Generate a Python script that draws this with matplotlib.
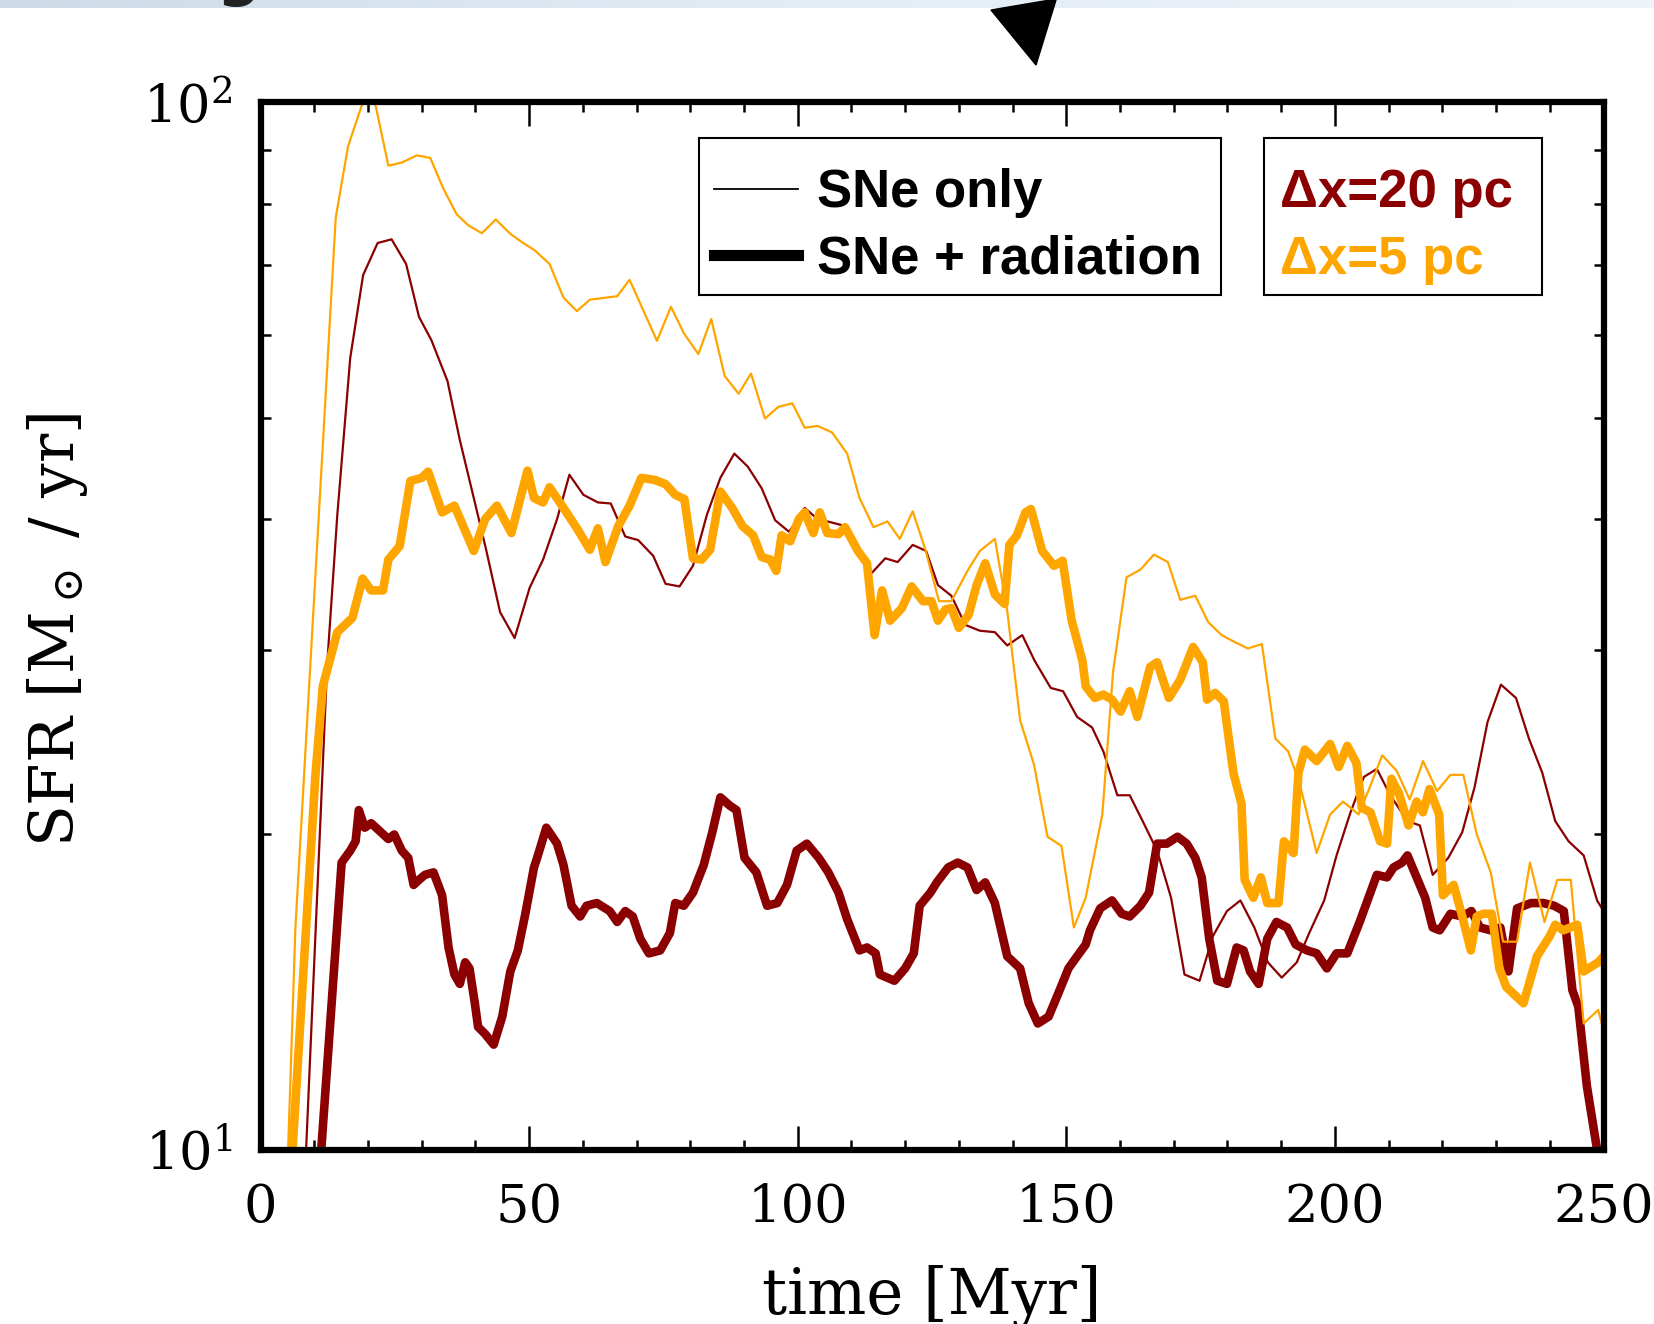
# SFR vs time for the SNe-only and SNe+radiation runs at two resolutions

import matplotlib
matplotlib.use("Agg")
import numpy as np
import matplotlib.pyplot as plt
from matplotlib.lines import Line2D
from matplotlib.patches import Polygon, Rectangle
from matplotlib.colors import LinearSegmentedColormap
from matplotlib.ticker import MultipleLocator, NullFormatter

plt.rcParams['font.family'] = 'DejaVu Serif'
plt.rcParams['mathtext.fontset'] = 'dejavuserif'

# (time [Myr], SFR [Msun/yr])
sne_20pc = [(8.3, 9.5), (12.4, 29.0), (14.3, 40.4), (16.7, 57.0), (19.1, 68.4), (21.8, 73.4),
            (24.4, 74.0), (27.1, 70.1), (29.5, 62.4), (31.8, 59.3), (34.8, 54.2), (37.1, 47.6),
            (39.7, 41.9), (42.0, 37.4), (44.6, 32.6), (47.3, 30.8), (50.1, 34.4), (52.6, 36.6),
            (55.2, 40.0), (57.5, 44.1), (60.1, 42.2), (62.8, 41.5), (65.2, 41.4), (67.9, 38.5),
            (70.3, 38.2), (73.1, 36.9), (75.4, 34.7), (78.0, 34.5), (80.5, 36.1), (83.1, 40.4),
            (85.6, 43.8), (88.2, 46.2), (90.7, 44.9), (93.3, 42.8), (95.8, 39.9), (98.4, 38.9),
            (101.3, 41.0), (103.7, 40.0), (106.4, 39.7), (108.8, 39.4), (111.2, 37.4), (113.7, 35.5),
            (116.3, 36.7), (118.6, 36.4), (121.4, 37.8), (123.9, 37.3), (126.1, 34.6), (128.6, 33.8),
            (131.2, 31.7), (133.9, 31.3), (136.7, 31.2), (139.0, 30.3), (141.8, 31.0), (144.1, 29.3),
            (147.1, 27.6), (149.4, 27.4), (152.0, 25.9), (154.8, 25.3), (156.9, 24.0), (159.5, 21.8),
            (161.8, 21.8), (164.4, 20.5), (166.9, 19.3), (169.5, 17.4), (172.0, 14.7), (174.8, 14.5),
            (177.3, 16.0), (179.9, 16.9), (182.4, 17.3), (185.0, 16.3), (187.5, 15.1), (190.1, 14.6),
            (192.9, 15.1), (195.2, 16.1), (198.0, 17.3), (200.3, 19.1), (202.9, 21.0), (205.4, 22.7),
            (207.8, 23.1), (210.3, 21.8), (213.5, 20.6), (215.8, 20.4), (218.2, 18.3), (221.1, 19.0),
            (223.7, 20.1), (226.0, 22.2), (228.4, 25.6), (230.9, 27.8), (233.7, 27.0), (236.1, 24.7),
            (238.6, 22.9), (241.0, 20.6), (243.5, 19.7), (246.3, 19.1), (248.8, 17.3), (250.0, 16.9)]

sne_5pc = [(5.0, 9.5), (6.5, 16.3), (14.0, 77.6), (16.3, 90.8), (18.9, 99.5), (20.2, 103.0),
           (21.3, 100.0), (23.8, 87.0), (26.3, 87.6), (29.1, 89.0), (31.6, 88.5), (34.0, 82.8),
           (36.5, 78.2), (38.7, 76.3), (41.2, 75.0), (43.8, 77.3), (46.5, 74.9), (48.9, 73.4),
           (51.1, 72.2), (53.8, 70.1), (56.4, 65.1), (58.9, 63.2), (61.3, 64.8), (66.4, 65.3),
           (68.7, 67.7), (73.8, 59.2), (76.4, 63.8), (78.8, 60.2), (81.5, 57.5), (83.9, 62.1),
           (86.4, 54.8), (89.0, 52.7), (91.3, 55.1), (93.9, 49.9), (96.4, 51.2), (99.0, 51.6),
           (101.3, 48.9), (103.7, 49.1), (106.4, 48.4), (109.2, 46.2), (111.5, 41.9), (114.1, 39.3),
           (116.7, 39.8), (119.0, 38.3), (121.4, 40.7), (123.7, 37.5), (126.3, 33.4), (128.6, 33.4),
           (131.6, 35.7), (133.9, 37.3), (136.7, 38.3), (139.0, 32.7), (141.4, 25.7), (144.0, 23.3),
           (146.5, 19.9), (149.1, 19.5), (151.4, 16.3), (153.6, 17.4), (156.7, 20.9), (158.7, 28.6),
           (161.2, 35.2), (163.8, 35.8), (166.3, 37.0), (168.9, 36.4), (171.2, 33.5), (174.0, 33.8),
           (176.4, 31.9), (178.9, 31.0), (181.5, 30.5), (183.8, 30.1), (186.4, 30.4), (188.9, 24.7),
           (191.3, 24.0), (193.4, 22.4), (196.6, 19.2), (199.1, 20.9), (201.5, 21.5), (204.4, 20.9),
           (206.2, 22.0), (208.8, 23.8), (211.5, 23.0), (213.9, 21.6), (216.4, 23.5), (219.0, 22.0),
           (221.5, 22.8), (223.9, 22.8), (226.4, 20.0), (229.0, 18.4), (231.3, 15.8), (233.9, 15.8),
           (236.3, 18.8), (239.0, 16.5), (241.4, 18.1), (243.9, 18.1), (246.3, 13.2), (249.0, 13.6),
           (250.0, 13.0)]

rad_20pc = [(11.0, 9.5), (15.1, 18.8), (16.7, 19.3), (17.7, 19.7), (18.3, 21.1), (19.4, 20.3),
            (20.6, 20.5), (22.4, 20.1), (23.8, 19.8), (24.9, 20.0), (26.3, 19.3), (27.5, 19.0),
            (28.5, 17.9), (29.5, 18.1), (30.6, 18.3), (32.2, 18.4), (33.8, 17.5), (35.0, 15.6),
            (36.1, 14.7), (37.1, 14.4), (38.1, 15.1), (38.9, 14.9), (39.9, 13.8), (40.5, 13.1),
            (41.8, 12.9), (43.4, 12.6), (45.0, 13.4), (46.5, 14.8), (47.9, 15.5), (49.3, 16.8),
            (50.9, 18.6), (51.5, 19.0), (53.2, 20.3), (55.2, 19.6), (56.4, 18.7), (57.9, 17.1),
            (59.5, 16.7), (60.7, 17.1), (62.6, 17.2), (65.0, 16.9), (66.4, 16.5), (67.9, 16.9),
            (69.3, 16.7), (70.7, 15.9), (72.3, 15.4), (74.4, 15.5), (76.2, 16.1), (77.2, 17.2),
            (78.8, 17.1), (80.5, 17.6), (82.5, 18.7), (84.1, 20.1), (85.6, 21.7), (87.4, 21.3),
            (88.6, 21.1), (90.1, 19.0), (92.3, 18.4), (94.3, 17.1), (96.2, 17.2), (98.0, 17.9),
            (99.8, 19.3), (101.7, 19.6), (103.9, 19.0), (105.7, 18.4), (107.6, 17.6), (109.2, 16.6),
            (111.5, 15.5), (112.9, 15.6), (114.5, 15.4), (115.3, 14.7), (118.0, 14.5), (120.0, 14.9),
            (121.6, 15.4), (122.7, 17.1), (124.7, 17.6), (125.9, 18.0), (128.0, 18.6), (129.8, 18.8),
            (131.6, 18.6), (133.3, 17.7), (134.9, 18.0), (136.7, 17.2), (139.0, 15.3), (141.4, 14.9),
            (143.0, 13.8), (144.7, 13.2), (146.7, 13.4), (148.5, 14.1), (150.4, 14.9), (152.0, 15.3),
            (153.6, 15.7), (154.4, 16.2), (156.3, 17.0), (158.5, 17.3), (160.3, 16.8), (161.8, 16.7),
            (163.8, 17.1), (165.4, 17.6), (166.9, 19.6), (168.7, 19.6), (170.7, 19.9), (172.4, 19.6),
            (174.0, 19.0), (175.2, 18.2), (176.6, 15.9), (178.1, 14.5), (179.9, 14.4), (181.7, 15.6),
            (183.0, 15.5), (184.2, 14.8), (185.8, 14.4), (187.4, 15.9), (189.1, 16.5), (191.1, 16.3),
            (192.7, 15.7), (194.8, 15.5), (196.6, 15.4), (198.5, 14.9), (200.3, 15.4), (202.3, 15.4),
            (204.6, 16.5), (207.8, 18.3), (209.7, 18.2), (210.9, 18.6), (212.5, 18.8), (213.5, 19.1),
            (215.2, 18.2), (216.8, 17.4), (218.2, 16.3), (219.5, 16.2), (221.5, 16.8), (223.7, 16.7),
            (225.4, 16.9), (227.0, 16.3), (229.0, 16.2), (230.8, 16.3), (232.3, 14.8), (233.9, 17.0),
            (236.5, 17.2), (238.8, 17.2), (240.8, 17.1), (242.6, 16.9), (244.2, 14.2), (245.3, 13.7),
            (246.9, 11.5), (248.8, 10.0), (249.6, 9.5)]

rad_5pc = [(5.7, 9.5), (10.2, 22.7), (11.6, 27.7), (14.3, 31.2), (17.1, 32.2), (19.0, 35.1),
           (20.6, 34.2), (22.8, 34.2), (23.8, 36.6), (25.9, 37.7), (27.9, 43.5), (30.0, 43.8),
           (31.2, 44.4), (33.8, 40.6), (36.1, 41.2), (39.7, 37.3), (41.8, 40.0), (44.0, 41.2),
           (46.7, 38.8), (49.7, 44.5), (50.9, 41.9), (52.6, 41.5), (53.8, 42.9), (56.4, 41.0),
           (58.9, 39.2), (61.3, 37.4), (62.8, 39.2), (64.2, 36.4), (66.6, 39.4), (68.7, 41.2),
           (70.9, 43.8), (73.4, 43.6), (75.4, 43.2), (77.2, 42.2), (78.9, 41.8), (80.5, 36.7),
           (82.1, 36.6), (83.7, 37.4), (85.6, 42.5), (87.8, 41.0), (89.7, 39.4), (91.7, 38.6),
           (93.3, 36.8), (94.9, 36.6), (96.0, 35.7), (97.0, 38.6), (98.6, 38.1), (100.2, 40.0),
           (101.3, 40.6), (102.9, 38.8), (104.1, 40.6), (105.5, 38.8), (107.6, 38.7), (108.8, 39.3),
           (111.2, 37.3), (112.9, 36.3), (114.3, 31.0), (115.7, 34.2), (117.2, 32.0), (119.4, 32.9),
           (121.2, 34.5), (123.3, 33.4), (124.9, 33.4), (126.1, 32.0), (127.5, 32.8), (128.6, 32.9),
           (130.0, 31.5), (131.8, 32.4), (133.3, 34.6), (134.9, 36.3), (136.7, 33.9), (138.5, 33.2),
           (139.4, 37.8), (140.8, 38.6), (142.4, 40.6), (143.4, 40.9), (145.5, 37.3), (147.7, 36.1),
           (149.3, 36.5), (151.0, 32.0), (153.0, 29.3), (153.6, 27.7), (155.3, 27.0), (156.9, 27.2),
           (158.5, 26.9), (160.1, 26.2), (161.8, 27.4), (163.2, 25.9), (165.6, 28.9), (166.9, 29.2),
           (169.1, 27.0), (171.2, 28.1), (173.6, 30.2), (175.4, 29.2), (176.2, 26.9), (177.7, 27.3),
           (179.3, 26.8), (181.1, 22.9), (182.6, 21.4), (183.2, 18.1), (184.8, 17.4), (186.2, 18.2),
           (187.4, 17.2), (189.5, 17.2), (190.5, 19.7), (192.3, 19.2), (193.2, 22.9), (194.4, 24.1),
           (196.6, 23.5), (199.1, 24.4), (200.7, 23.2), (202.3, 24.3), (204.0, 23.4), (205.0, 21.2),
           (206.6, 21.0), (208.4, 19.7), (209.7, 19.6), (210.5, 22.6), (211.9, 21.9), (213.7, 20.4),
           (215.2, 21.5), (216.4, 21.0), (217.6, 22.1), (219.4, 20.9), (220.1, 17.5), (222.1, 17.9),
           (223.7, 16.7), (225.3, 15.5), (226.4, 16.7), (227.6, 16.8), (229.2, 16.8), (230.6, 14.9),
           (231.9, 14.3), (235.1, 13.8), (237.6, 15.3), (240.0, 16.0), (241.0, 16.4), (242.5, 16.2),
           (245.1, 16.4), (246.3, 14.8), (249.0, 15.1), (250.0, 15.3)]

run_labels = ['SNe only', 'SNe + radiation']
res_labels = ['\u0394x=20 pc', '\u0394x=5 pc']

c20 = '#8B0000'
c5 = '#FFA500'

fig = plt.figure(figsize=(16.54, 13.24), dpi=100)

# light strip of the page above (cropped)
band = fig.add_axes([0, 1 - 8 / 1324, 1, 8 / 1324])
band.imshow(np.linspace(0, 1, 256)[None, :], aspect='auto',
            cmap=LinearSegmentedColormap.from_list('b', ['#cddbe8', '#e4edf5', '#eef3f8']))
band.axis('off')
fig.text(216 / 1654, 1 + 6 / 1324, 'g', fontsize=44, family='DejaVu Sans',
         weight='bold', color='#222222', va='baseline')

# arrow tip coming in from the top
fig.patches.append(Polygon([(1050 / 1654, 1.0), (991 / 1654, 1 - 10 / 1324),
                            (1036 / 1654, 1 - 65 / 1324), (1056 / 1654, 1.0)],
                           closed=True, color='k', transform=fig.transFigure))

ax = fig.add_axes([0.1575, 0.1316, 0.8120, 0.7911])

for pts, col, lw in [(sne_20pc, c20, 1.6), (rad_20pc, c20, 6.2),
                     (sne_5pc, c5, 1.6), (rad_5pc, c5, 6.2)]:
    t, sfr = zip(*pts)
    ax.plot(t, sfr, color=col, lw=lw)

ax.set_yscale('log')
ax.set_xlim(0, 250)
ax.set_ylim(10, 100)
ax.xaxis.set_major_locator(MultipleLocator(50))
ax.xaxis.set_minor_locator(MultipleLocator(10))
ax.yaxis.set_minor_formatter(NullFormatter())

ax.tick_params(which='both', direction='in', top=True, right=True)
ax.tick_params(which='major', length=17, width=1.8, labelsize=38)
ax.tick_params(axis='x', which='major', pad=23)
ax.tick_params(axis='y', which='major', pad=20)
ax.tick_params(which='minor', length=7.5, width=1.8)
for s in ax.spines.values():
    s.set_linewidth(4.5)

ax.set_xlabel('time [Myr]', fontsize=45)
ax.xaxis.set_label_coords(0.5, -0.110)
ax.set_ylabel(r'SFR [M$_\odot$ / yr]', fontsize=44)
ax.yaxis.set_label_coords(-0.127, 0.496)

# legend boxes
for x0, x1 in [(0.3267, 0.7155), (0.747, 0.9543)]:
    ax.add_patch(Rectangle((x0, 0.8157), x1 - x0, 0.9657 - 0.8157, transform=ax.transAxes,
                           facecolor='white', edgecolor='k', lw=1.5, zorder=4.9))

lprop = dict(family='Liberation Sans', weight='bold', size=38)

leg1 = ax.legend([Line2D([], [], color='k', lw=1.3), Line2D([], [], color='k', lw=8)],
                 run_labels, loc='upper left', bbox_to_anchor=(0.3377, 0.9373), prop=lprop,
                 handlelength=1.6, handletextpad=0.35, borderpad=0, labelspacing=0.32,
                 borderaxespad=0, frameon=False)
ax.add_artist(leg1)

leg2 = ax.legend([Line2D([], [], lw=0), Line2D([], [], lw=0)], res_labels,
                 loc='upper left', bbox_to_anchor=(0.7588, 0.9373), prop=lprop,
                 handlelength=0, handletextpad=0, borderpad=0, labelspacing=0.32,
                 borderaxespad=0, frameon=False, labelcolor=[c20, c5])

fig.savefig('out.png', dpi=100)
